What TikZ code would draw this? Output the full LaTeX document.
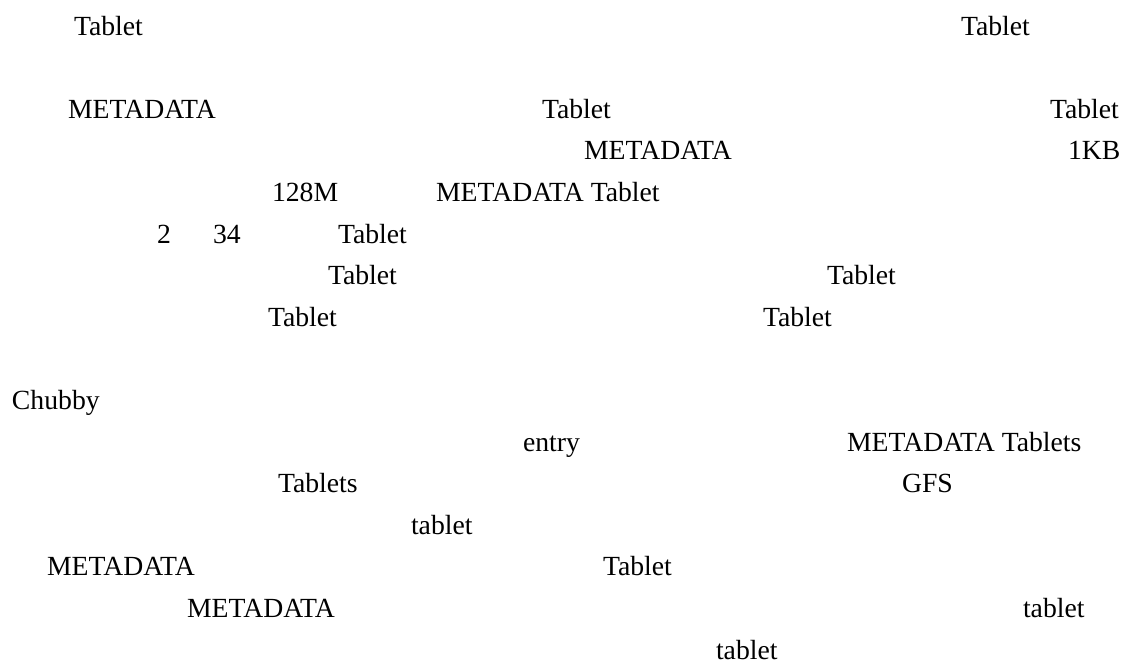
\documentclass[tikz,border=0pt]{standalone}
\usepackage{fontspec}
\setmainfont{Liberation Serif}
\begin{document}
\begin{tikzpicture}[x=1pt,y=-1pt,
  word/.style={anchor=base west,inner sep=0pt,outer sep=0pt,
    font=\fontsize{27.7}{30}\selectfont}]
\useasboundingbox (0,0) rectangle (1123,664);
% baseline of text line k: 35 + 41.6*(k-1)
\def\ln#1{\fpeval{35+41.6*(#1-1)}}
\node[word] (l1a)  at (74,{\ln{1}})   {Tablet};
\node[word] (l1b)  at (961,{\ln{1}})  {Tablet};
\node[word] (l3a)  at (68,{\ln{3}})   {METADATA};
\node[word] (l3b)  at (542,{\ln{3}})  {Tablet};
\node[word] (l3c)  at (1050,{\ln{3}}) {Tablet};
\node[word] (l4a)  at (584,{\ln{4}})  {METADATA};
\node[word] (l4b)  at (1068,{\ln{4}}) {1KB};
\node[word] (l5a)  at (272,{\ln{5}})  {128M};
\node[word] (l5b)  at (436,{\ln{5}})  {METADATA Tablet};
\node[word] (l6a)  at (157,{\ln{6}})  {2};
\node[word] (l6b)  at (213,{\ln{6}})  {34};
\node[word] (l6c)  at (338,{\ln{6}})  {Tablet};
\node[word] (l7a)  at (328,{\ln{7}})  {Tablet};
\node[word] (l7b)  at (827,{\ln{7}})  {Tablet};
\node[word] (l8a)  at (268,{\ln{8}})  {Tablet};
\node[word] (l8b)  at (763,{\ln{8}})  {Tablet};
\node[word] (l10a) at (12,{\ln{10}})  {Chubby};
\node[word] (l11a) at (523,{\ln{11}}) {entry};
\node[word] (l11b) at (847,{\ln{11}}) {METADATA Tablets};
\node[word] (l12a) at (278,{\ln{12}}) {Tablets};
\node[word] (l12b) at (902,{\ln{12}}) {GFS};
\node[word] (l13a) at (411,{\ln{13}}) {tablet};
\node[word] (l14a) at (47,{\ln{14}})  {METADATA};
\node[word] (l14b) at (603,{\ln{14}}) {Tablet};
\node[word] (l15a) at (187,{\ln{15}}) {METADATA};
\node[word] (l15b) at (1023,{\ln{15}}) {tablet};
\node[word] (l16a) at (716,{\ln{16}}) {tablet};
\end{tikzpicture}
\end{document}
